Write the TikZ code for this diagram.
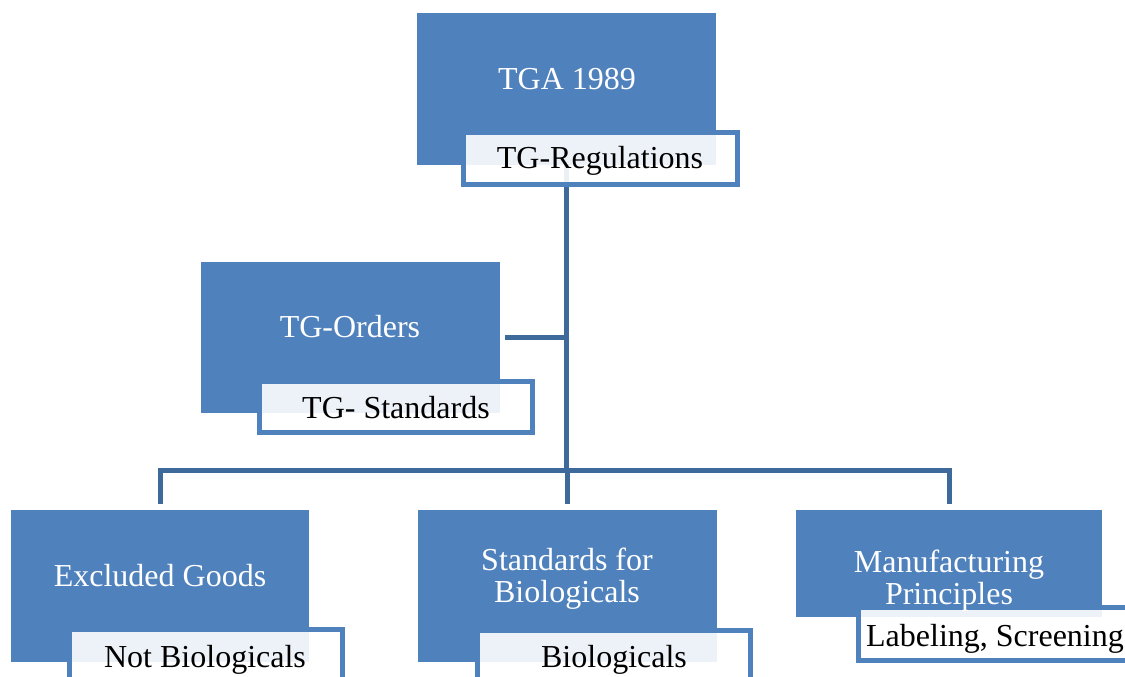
\documentclass[tikz,border=0pt]{standalone}
\usepackage{fontspec}
\setmainfont{Liberation Serif}
\definecolor{boxblue}{HTML}{4F81BD}
\definecolor{connblue}{HTML}{3E6A9B}
\tikzset{
  x=1pt, y=-1pt,
  bluebox/.style={fill=boxblue, draw=none, inner sep=0pt, outer sep=0pt, anchor=north west},
  labbox/.style={fill=white, fill opacity=0.9, draw=boxblue, draw opacity=1, line width=5pt, inner sep=0pt, outer sep=0pt, anchor=north west},
  wtext/.style={text=white, font=\fontsize{32}{33}\selectfont, anchor=base, inner sep=0pt},
  btext/.style={text=black, font=\fontsize{32}{33}\selectfont, anchor=base, inner sep=0pt},
  conn/.style={draw=connblue, line width=5pt},
}
\begin{document}
\begin{tikzpicture}
\useasboundingbox (0,0) rectangle (1125,677);
\clip (0,0) rectangle (1125,677);
% blue boxes
\node[bluebox, minimum width=299pt, minimum height=152pt] (tga) at (417,13) {};
\node[bluebox, minimum width=299pt, minimum height=151pt] (ord) at (201,262) {};
\node[bluebox, minimum width=298pt, minimum height=152pt] (excl) at (11,510) {};
\node[bluebox, minimum width=299pt, minimum height=152pt] (std) at (418,510) {};
\node[bluebox, minimum width=306pt, minimum height=107pt] (manu) at (796,510) {};
% connectors
\coordinate (bar) at (567,470.5);
\draw[conn] (tga.south) -- (tga.south |- bar);
\draw[conn] ([xshift=5pt]ord.east) -- (ord.east -| tga.south);
\draw[conn] ([yshift=6pt]excl.north) -- (excl.north |- bar) -- (manu.north |- bar) -- ([yshift=6pt]manu.north);
\draw[conn] (std.north |- bar) -- ([yshift=6pt]std.north);
% label boxes
\node[labbox, minimum width=274pt, minimum height=52pt] (reg) at (463.5,132.5) {};
\node[labbox, minimum width=273pt, minimum height=51pt] (tgs) at (259.5,381.5) {};
\node[labbox, minimum width=273pt, minimum height=52pt] (nbio) at (69.5,629.5) {};
\node[labbox, minimum width=273pt, minimum height=52pt] (bio) at (477.5,630.5) {};
\node[labbox, minimum width=274pt, minimum height=53pt] (lab) at (858.5,607.5) {};
% texts
\node[wtext] (tgat) at (567,89) {TGA 1989};
\node[btext] (regt) at (600,168) {TG-Regulations};
\node[wtext] (ordt) at (350,337) {TG-Orders};
\node[btext] (tgst) at (396,418) {TG- Standards};
\node[wtext] (exclt) at (160,586) {Excluded Goods};
\node[btext] (nbiot) at (205,667) {Not Biologicals};
\node[wtext] (stdt1) at (567,570) {Standards for};
\node[wtext] (stdt2) at (567,602) {Biologicals};
\node[btext] (biot) at (614,667) {Biologicals};
\node[wtext] (manut1) at (949,572) {Manufacturing};
\node[wtext] (manut2) at (949,604) {Principles};
\node[btext] (labt) at (995,646) {Labeling, Screening};
\end{tikzpicture}
\end{document}
